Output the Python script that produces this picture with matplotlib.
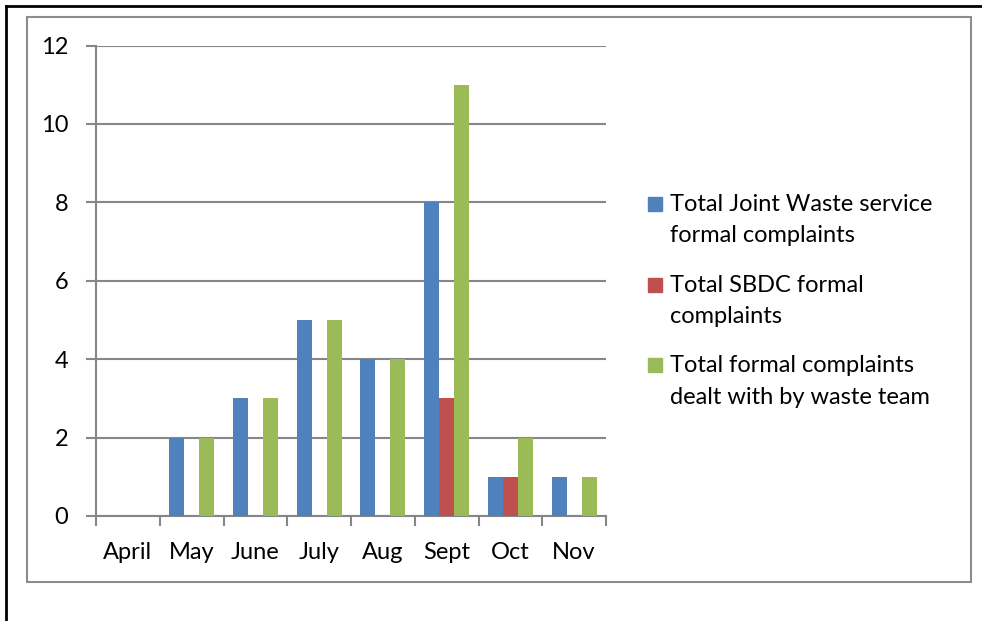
import matplotlib.pyplot as plt
from matplotlib.patches import Rectangle
from matplotlib.lines import Line2D
import numpy as np

plt.rcParams['font.family'] = ['Lato', 'DejaVu Sans']

months = ['April', 'May', 'June', 'July', 'Aug', 'Sept', 'Oct', 'Nov']
joint_waste = [0, 2, 3, 5, 4, 8, 1, 1]
sbdc = [0, 0, 0, 0, 0, 3, 1, 0]
waste_team = [0, 2, 3, 5, 4, 11, 2, 1]
series_names = ['Total Joint Waste service\nformal complaints',
                'Total SBDC formal\ncomplaints',
                'Total formal complaints\ndealt with by waste team']
colors = ['#4F81BD', '#C0504D', '#9BBB59']

W, H = 982, 621
fig = plt.figure(figsize=(9.82, 6.21), dpi=100)

# page border (black) and chart frame (grey)
fig.add_artist(Line2D([6 / W, 6 / W], [0, 1 - 6 / H], color='black', lw=2))
fig.add_artist(Line2D([6 / W, 1], [1 - 6 / H, 1 - 6 / H], color='black', lw=2))
fig.add_artist(Rectangle((27 / W, 1 - 582 / H), (971 - 27) / W, (582 - 17) / H,
                         fill=False, edgecolor='#8c8c8c', lw=1.5))

ax = fig.add_axes([96 / W, 1 - 516 / H, 510 / W, (516 - 45.5) / H])

x = np.arange(len(months))
bw = 1 / 4.25  # gap width 125%
for i, vals in enumerate([joint_waste, sbdc, waste_team]):
    ax.bar(x + (i - 1) * bw, vals, width=bw, color=colors[i], zorder=3)

ax.set_xlim(-0.5, len(months) - 0.5)
ax.set_ylim(0, 12)
ax.set_yticks(range(0, 13, 2))
ax.yaxis.grid(True, color='#868686', lw=1.5, zorder=0)
ax.set_xticks(x)
ax.set_xticklabels(months)
ax.set_xticks(np.arange(-0.5, len(months), 1), minor=True)
ax.tick_params(axis='x', which='major', length=0, pad=19, labelsize=17)
ax.tick_params(axis='x', which='minor', length=7, width=1.5, color='#868686')
ax.tick_params(axis='y', length=7, width=1.5, color='#868686', pad=13, labelsize=17)
for s in ['top', 'right']:
    ax.spines[s].set_visible(False)
for s in ['left', 'bottom']:
    ax.spines[s].set_color('#868686')
    ax.spines[s].set_linewidth(1.5)

# legend, square beside the first line of each entry
for i, name in enumerate(series_names):
    base = 211 + i * 80.5
    fig.add_artist(Rectangle((648 / W, 1 - (base) / H), 14 / W, 14 / H,
                             color=colors[i]))
    for j, line in enumerate(name.split('\n')):
        fig.text(670 / W, 1 - (base + j * 31.5) / H, line, fontsize=17,
                 va='baseline', ha='left')

fig.savefig('out.png', dpi=100)
